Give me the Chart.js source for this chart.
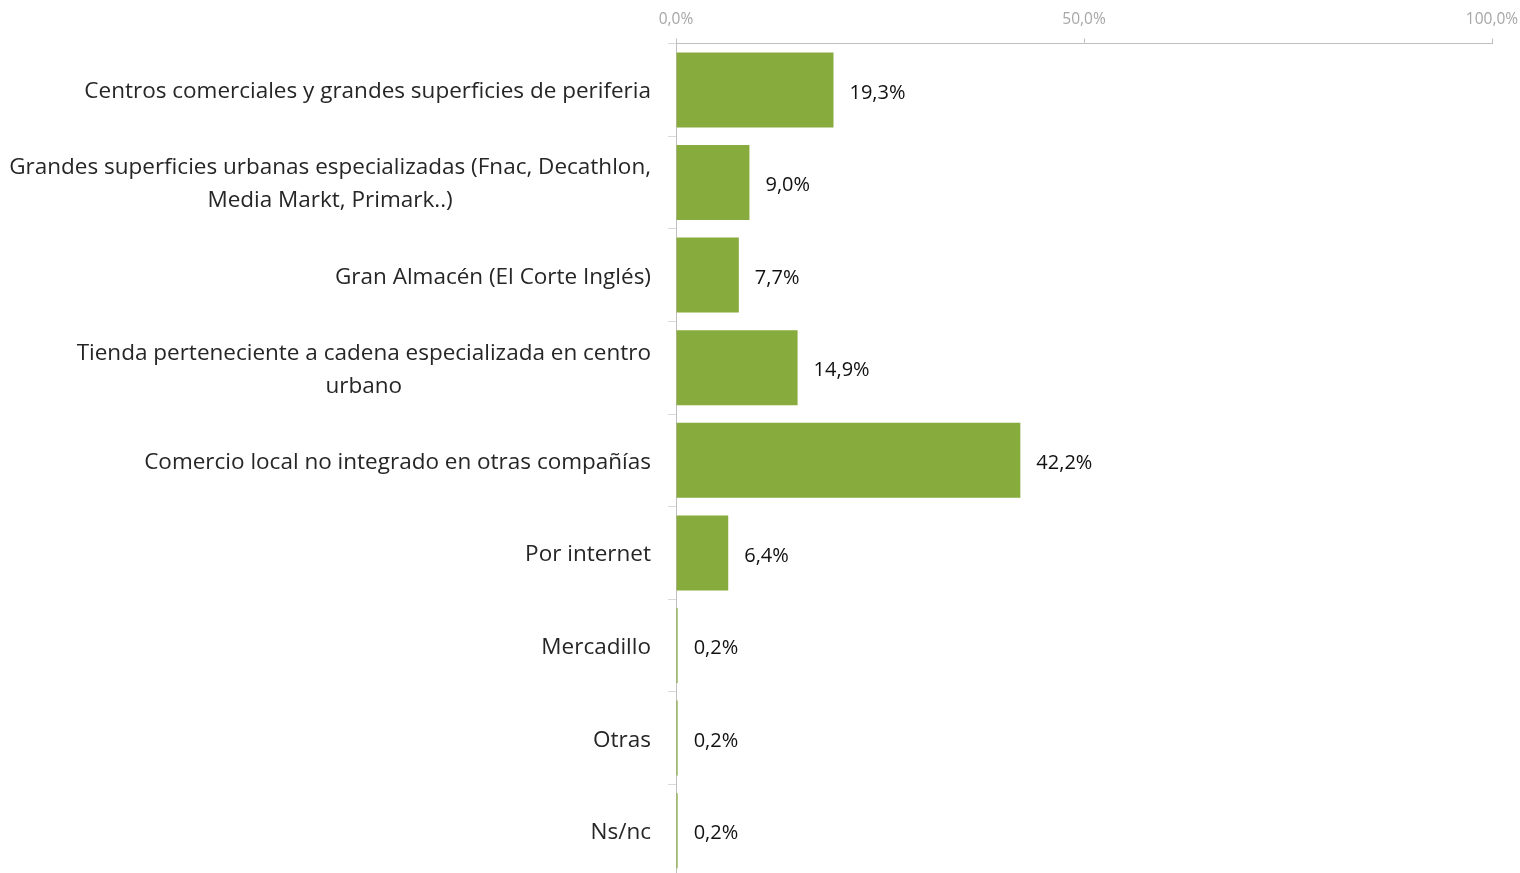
<!DOCTYPE html>
<html lang="es">
<head>
  <meta charset="utf-8">
  <title>Lugar de compra</title>
  <script src="https://cdn.jsdelivr.net/npm/chart.js@4.4.1/dist/chart.umd.min.js"></script>
  <style>
    html, body { margin: 0; padding: 0; background: #fff; }
    .wrapper { width: 1520px; height: 873px; overflow: hidden; }
  </style>
</head>
<body>
  <div class="wrapper">
    <canvas id="chart-0" width="1520" height="877"></canvas>
  </div>

  <script>
    // one entry per bar, each line of a wrapped label kept apart
    let categories = [
      ['Centros comerciales y grandes superficies de periferia'],
      ['Grandes superficies urbanas especializadas (Fnac, Decathlon,', 'Media Markt, Primark..)'],
      ['Gran Almacén (El Corte Inglés)'],
      ['Tienda perteneciente a cadena especializada en centro', 'urbano'],
      ['Comercio local no integrado en otras compañías'],
      ['Por internet'],
      ['Mercadillo'],
      ['Otras'],
      ['Ns/nc']
    ];
    let values = [19.3, 9.0, 7.7, 14.9, 42.2, 6.4, 0.2, 0.2, 0.2];
    let xTicks = [0, 50, 100];

    let fontFamily = '"Open Sans", "Noto Sans", sans-serif';
    let barColor = '#87ab3d';

    function pct(v) {
      return v.toFixed(1).replace('.', ',') + '%';
    }

    // y labels: block right-aligned against the axis, lines centred within the block
    let categoryLabels = {
      id: 'categoryLabels',
      afterDraw(chart) {
        let ctx = chart.ctx;
        let scale = chart.scales.y;
        let right = chart.chartArea.left - 25;
        ctx.save();
        ctx.font = '22.5px ' + fontFamily;
        ctx.fillStyle = '#262626';
        ctx.textAlign = 'center';
        ctx.textBaseline = 'middle';
        categories.forEach(function(lines, i) {
          let widest = Math.max.apply(null, lines.map(l => ctx.measureText(l).width));
          let cx = right - widest / 2;
          let cy = scale.getPixelForValue(i) + 2;
          lines.forEach(function(line, j) {
            ctx.fillText(line, cx, cy + (j - (lines.length - 1) / 2) * 33);
          });
        });
        ctx.restore();
      }
    };

    // value printed just past the end of each bar
    let valueLabels = {
      id: 'valueLabels',
      afterDatasetsDraw(chart) {
        let ctx = chart.ctx;
        let meta = chart.getDatasetMeta(0);
        ctx.save();
        ctx.font = '20px ' + fontFamily;
        ctx.fillStyle = '#111';
        ctx.textAlign = 'left';
        ctx.textBaseline = 'middle';
        meta.data.forEach(function(bar, i) {
          ctx.fillText(pct(values[i]), bar.x + 16, bar.y + 3);
        });
        ctx.restore();
      }
    };

    let chart = new Chart('chart-0', {
      type: 'bar',
      data: {
        labels: categories.map(l => l.join(' ')),
        datasets: [{
          data: values,
          backgroundColor: barColor,
          borderWidth: 0,
          barPercentage: 0.81,
          categoryPercentage: 1
        }]
      },
      options: {
        indexAxis: 'y',
        responsive: false,
        animation: false,
        layout: {
          autoPadding: false,
          padding: { left: 668, right: 28, top: 0, bottom: 0 }
        },
        plugins: {
          legend: { display: false },
          tooltip: { enabled: false }
        },
        scales: {
          x: {
            position: 'top',
            min: 0,
            max: 100,
            afterBuildTicks: function(scale) {
              scale.ticks = xTicks.map(v => ({ value: v }));
            },
            // end labels may hang past the axis ends, no extra room needed
            afterFit: function(scale) {
              scale.paddingLeft = 0;
              scale.paddingRight = 0;
            },
            border: { color: '#bfbfbf' },
            grid: {
              drawOnChartArea: false,
              tickLength: 5,
              color: '#bfbfbf'
            },
            ticks: {
              padding: 10,
              maxRotation: 0,
              color: '#a6a6a6',
              font: { family: fontFamily, size: 15.5 },
              callback: v => pct(v)
            }
          },
          y: {
            border: { color: '#bfbfbf' },
            grid: {
              offset: true,
              drawOnChartArea: false,
              tickLength: 8,
              color: '#d9d9d9'
            },
            ticks: { display: false }
          }
        }
      },
      plugins: [categoryLabels, valueLabels]
    });
  </script>
</body>
</html>
